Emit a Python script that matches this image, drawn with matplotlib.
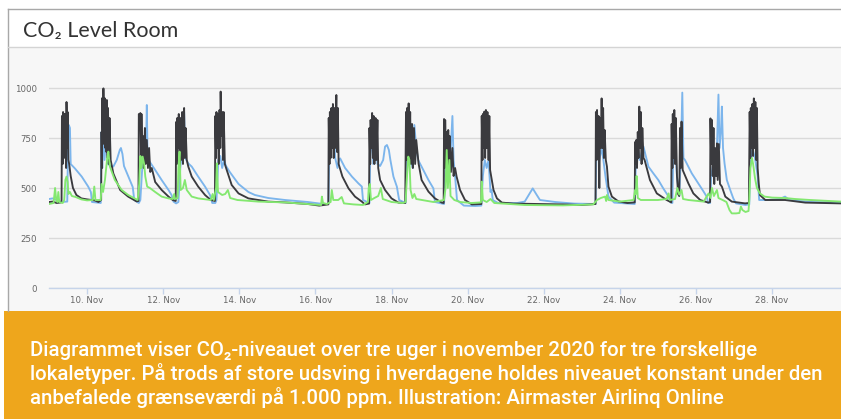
import matplotlib
matplotlib.use('Agg')
import matplotlib.pyplot as plt
import matplotlib.dates as mdates
from matplotlib.patches import Rectangle
from matplotlib.lines import Line2D
import pandas as pd

# CO2 readings (ppm) as (days since 9 Nov 2020 00:00, value)
blue_pts = [
    (0.00, 445), (0.10, 448), (0.20, 440), (0.30, 430), (0.48, 432), (0.50, 720), (0.52, 815),
    (0.55, 800), (0.57, 620), (0.62, 610), (0.68, 598), (0.86, 557), (1.03, 507), (1.10, 480),
    (1.13, 430), (1.36, 425), (1.38, 780), (1.40, 600), (1.43, 850), (1.46, 640), (1.50, 780),
    (1.55, 620), (1.62, 610), (1.69, 607), (1.78, 640), (1.86, 690), (1.89, 700), (1.93, 670),
    (1.97, 610), (2.10, 550), (2.20, 505), (2.24, 440), (2.36, 425), (2.40, 440), (2.45, 600),
    (2.50, 650), (2.55, 700), (2.57, 915), (2.59, 650), (2.65, 630), (2.79, 590), (2.96, 540),
    (3.14, 490), (3.22, 465), (3.27, 432), (3.34, 423), (3.40, 430), (3.45, 600), (3.50, 700),
    (3.55, 880), (3.58, 650), (3.66, 623), (3.75, 607), (3.92, 557), (4.10, 507), (4.23, 465),
    (4.29, 425), (4.37, 425), (4.40, 440), (4.45, 640), (4.50, 660), (4.55, 600), (4.60, 640),
    (4.65, 610), (4.75, 580), (4.98, 520), (5.24, 480), (5.41, 465), (5.76, 450), (6.20, 440),
    (6.80, 430), (7.20, 420), (7.34, 420), (7.36, 600), (7.38, 850), (7.42, 700), (7.46, 880),
    (7.52, 650), (7.58, 600), (7.62, 640), (7.65, 648), (7.78, 600), (7.96, 557), (8.13, 523),
    (8.22, 507), (8.25, 440), (8.42, 425), (8.44, 650), (8.48, 800), (8.52, 620), (8.58, 780),
    (8.63, 620), (8.70, 610), (8.78, 640), (8.83, 707), (8.88, 715), (8.93, 690), (8.97, 640),
    (9.05, 557), (9.14, 507), (9.20, 440), (9.37, 425), (9.40, 620), (9.45, 780), (9.50, 640),
    (9.56, 600), (9.60, 815), (9.65, 700), (9.70, 640), (9.79, 607), (9.97, 540), (10.10, 498),
    (10.14, 430), (10.38, 420), (10.42, 600), (10.47, 650), (10.53, 600), (10.57, 750),
    (10.60, 860), (10.63, 640), (10.67, 560), (10.72, 440), (10.90, 412), (11.20, 410),
    (11.36, 412), (11.40, 560), (11.45, 640), (11.50, 600), (11.55, 640), (11.60, 480),
    (11.63, 490), (11.66, 440), (11.80, 425), (12.30, 425), (12.50, 432), (12.62, 470),
    (12.71, 498), (12.80, 470), (12.90, 440), (13.30, 430), (13.80, 422), (14.36, 420),
    (14.38, 650), (14.42, 700), (14.46, 640), (14.52, 700), (14.56, 650), (14.62, 560),
    (14.70, 457), (14.85, 427), (15.39, 420), (15.42, 620), (15.47, 700), (15.52, 640),
    (15.58, 680), (15.62, 707), (15.75, 607), (15.88, 573), (16.01, 540), (16.14, 498),
    (16.28, 457), (16.33, 428), (16.38, 425), (16.40, 640), (16.45, 700), (16.50, 560),
    (16.56, 460), (16.60, 650), (16.64, 977), (16.67, 650), (16.71, 640), (16.89, 573),
    (17.06, 523), (17.20, 482), (17.28, 457), (17.32, 425), (17.37, 425), (17.40, 560),
    (17.45, 620), (17.50, 560), (17.55, 700), (17.59, 967), (17.62, 700), (17.66, 800),
    (17.68, 907), (17.71, 700), (17.75, 623), (17.81, 540), (17.90, 490), (17.98, 448),
    (18.05, 423), (18.30, 415), (18.40, 418), (18.42, 600), (18.48, 700), (18.55, 650),
    (18.62, 560), (18.66, 440), (18.90, 440), (19.20, 445), (19.34, 457), (19.45, 440),
    (20.00, 430), (20.81, 428),
]

black_pts = [
    (0.00, 430), (0.10, 432), (0.20, 425), (0.32, 428), (0.33, 440), (0.34, 860), (0.36, 620),
    (0.37, 880), (0.39, 700), (0.40, 870), (0.42, 650), (0.43, 870), (0.45, 600), (0.46, 930),
    (0.48, 700), (0.49, 880), (0.51, 640), (0.53, 620), (0.57, 560), (0.63, 500), (0.72, 465),
    (0.85, 448), (1.00, 443), (1.20, 438), (1.30, 430), (1.37, 440), (1.38, 780), (1.39, 600),
    (1.40, 950), (1.42, 720), (1.43, 998), (1.45, 760), (1.46, 950), (1.48, 700), (1.49, 930),
    (1.51, 680), (1.52, 940), (1.54, 650), (1.55, 900), (1.57, 620), (1.59, 850), (1.62, 640),
    (1.69, 573), (1.87, 490), (2.08, 457), (2.30, 433), (2.35, 435), (2.36, 870), (2.38, 860),
    (2.40, 875), (2.42, 650), (2.43, 870), (2.45, 640), (2.47, 760), (2.49, 600), (2.52, 800),
    (2.54, 620), (2.57, 740), (2.60, 600), (2.63, 700), (2.66, 580), (2.70, 600), (2.79, 530),
    (2.96, 490), (3.14, 457), (3.25, 440), (3.33, 435), (3.34, 830), (3.36, 620), (3.37, 850),
    (3.39, 700), (3.41, 870), (3.43, 600), (3.45, 850), (3.47, 640), (3.50, 880), (3.52, 620),
    (3.55, 900), (3.57, 650), (3.59, 800), (3.62, 640), (3.66, 607), (3.75, 557), (3.92, 507),
    (4.10, 465), (4.25, 440), (4.36, 435), (4.37, 860), (4.39, 650), (4.40, 880), (4.42, 700),
    (4.44, 870), (4.46, 620), (4.48, 890), (4.50, 700), (4.51, 982), (4.53, 760), (4.55, 880),
    (4.57, 640), (4.59, 880), (4.62, 620), (4.67, 590), (4.80, 515), (4.98, 473), (5.24, 448),
    (5.76, 432), (6.20, 428), (6.80, 420), (7.10, 412), (7.34, 418), (7.35, 850), (7.37, 620),
    (7.38, 880), (7.40, 650), (7.42, 900), (7.44, 700), (7.46, 920), (7.48, 650), (7.50, 900),
    (7.52, 700), (7.55, 965), (7.57, 680), (7.59, 900), (7.61, 620), (7.71, 557), (7.87, 498),
    (8.04, 457), (8.22, 432), (8.30, 418), (8.41, 422), (8.42, 800), (8.44, 620), (8.45, 840),
    (8.47, 700), (8.49, 875), (8.51, 650), (8.53, 860), (8.55, 620), (8.58, 850), (8.60, 640),
    (8.63, 840), (8.65, 600), (8.70, 540), (8.83, 490), (9.00, 448), (9.18, 427), (9.36, 425),
    (9.38, 880), (9.40, 640), (9.41, 900), (9.43, 700), (9.45, 923), (9.47, 650), (9.49, 880),
    (9.51, 620), (9.54, 820), (9.56, 600), (9.59, 800), (9.62, 620), (9.65, 740), (9.71, 623),
    (9.79, 540), (9.97, 482), (10.14, 448), (10.32, 427), (10.37, 425), (10.38, 845),
    (10.40, 600), (10.41, 840), (10.43, 620), (10.45, 780), (10.47, 580), (10.49, 790),
    (10.51, 600), (10.53, 760), (10.56, 580), (10.60, 700), (10.63, 560), (10.67, 600),
    (10.71, 557), (10.80, 490), (10.93, 440), (11.11, 418), (11.36, 420), (11.37, 860),
    (11.39, 640), (11.40, 870), (11.42, 700), (11.44, 882), (11.46, 650), (11.48, 890),
    (11.50, 700), (11.52, 880), (11.55, 640), (11.57, 860), (11.59, 590), (11.68, 490),
    (11.77, 448), (11.90, 427), (12.20, 422), (12.80, 420), (13.50, 418), (14.00, 415),
    (14.36, 420), (14.37, 880), (14.39, 640), (14.40, 890), (14.42, 700), (14.44, 860),
    (14.46, 500), (14.48, 850), (14.50, 700), (14.52, 948), (14.54, 700), (14.56, 900),
    (14.58, 650), (14.60, 790), (14.63, 640), (14.66, 607), (14.70, 507), (14.79, 457),
    (14.96, 433), (15.20, 425), (15.39, 428), (15.40, 730), (15.42, 620), (15.43, 740),
    (15.45, 600), (15.47, 780), (15.49, 650), (15.51, 907), (15.53, 700), (15.55, 880),
    (15.57, 620), (15.59, 800), (15.62, 650), (15.65, 640), (15.79, 540), (15.97, 473),
    (16.23, 440), (16.35, 428), (16.36, 820), (16.38, 600), (16.39, 870), (16.41, 650),
    (16.43, 890), (16.45, 620), (16.47, 850), (16.50, 560), (16.53, 470), (16.56, 460),
    (16.58, 800), (16.60, 600), (16.62, 832), (16.65, 590), (16.80, 523), (16.93, 473),
    (17.11, 440), (17.32, 427), (17.37, 430), (17.38, 848), (17.40, 620), (17.42, 840),
    (17.44, 560), (17.46, 800), (17.48, 520), (17.50, 700), (17.53, 560), (17.55, 723),
    (17.57, 540), (17.60, 720), (17.63, 520), (17.68, 507), (17.77, 457), (17.94, 432),
    (18.29, 423), (18.39, 425), (18.41, 880), (18.43, 650), (18.44, 900), (18.46, 700),
    (18.48, 920), (18.50, 660), (18.52, 948), (18.54, 700), (18.56, 930), (18.58, 640),
    (18.60, 900), (18.62, 600), (18.65, 520), (18.68, 465), (18.82, 440), (19.34, 440),
    (19.87, 427), (20.81, 423),
]

green_pts = [
    (0.00, 420), (0.12, 425), (0.16, 500), (0.19, 440), (0.22, 430), (0.245, 480), (0.27, 430),
    (0.36, 425), (0.40, 440), (0.43, 540), (0.46, 557), (0.49, 530), (0.51, 470), (0.55, 480),
    (0.60, 460), (0.70, 455), (0.85, 443), (1.00, 438), (1.15, 440), (1.19, 507), (1.22, 440),
    (1.36, 440), (1.38, 520), (1.42, 480), (1.47, 540), (1.53, 650), (1.56, 682), (1.60, 607),
    (1.73, 540), (1.91, 490), (2.08, 465), (2.25, 448), (2.33, 440), (2.37, 520), (2.40, 660),
    (2.43, 600), (2.46, 657), (2.50, 620), (2.53, 557), (2.58, 507), (2.65, 500), (2.79, 480),
    (2.96, 457), (3.14, 448), (3.25, 445), (3.29, 470), (3.31, 445), (3.38, 450), (3.40, 600),
    (3.43, 682), (3.46, 490), (3.52, 500), (3.57, 540), (3.62, 490), (3.75, 457), (3.92, 448),
    (4.25, 440), (4.30, 470), (4.33, 440), (4.39, 500), (4.41, 623), (4.44, 480), (4.55, 465),
    (4.63, 470), (4.70, 490), (4.76, 450), (4.95, 440), (5.50, 432), (6.20, 428), (6.80, 420),
    (7.15, 415), (7.17, 457), (7.20, 425), (7.30, 420), (7.40, 430), (7.43, 490), (7.47, 440),
    (7.60, 440), (7.69, 455), (7.75, 423), (8.00, 418), (8.25, 415), (8.38, 430), (8.40, 500),
    (8.43, 520), (8.46, 440), (8.55, 450), (8.65, 460), (8.72, 500), (8.77, 445), (9.00, 430),
    (9.30, 425), (9.37, 430), (9.40, 540), (9.44, 657), (9.47, 640), (9.50, 490), (9.55, 450),
    (9.60, 470), (9.65, 445), (9.80, 440), (10.10, 430), (10.38, 440), (10.42, 500),
    (10.45, 690), (10.48, 500), (10.52, 640), (10.55, 460), (10.65, 440), (10.80, 430),
    (11.10, 425), (11.35, 428), (11.37, 532), (11.40, 440), (11.50, 430), (11.60, 445),
    (11.70, 425), (12.50, 415), (13.50, 413), (14.30, 418), (14.40, 440), (14.50, 450),
    (14.61, 457), (14.64, 435), (14.66, 465), (14.70, 440), (15.00, 432), (15.36, 440),
    (15.40, 490), (15.42, 470), (15.44, 560), (15.47, 450), (15.55, 440), (16.00, 440),
    (16.23, 445), (16.28, 473), (16.31, 440), (16.45, 445), (16.51, 500), (16.56, 467),
    (16.62, 490), (16.66, 445), (16.80, 440), (17.20, 432), (17.33, 473), (17.38, 450),
    (17.42, 500), (17.47, 460), (17.55, 490), (17.59, 450), (17.70, 440), (17.80, 430),
    (17.88, 390), (17.94, 373), (18.05, 373), (18.14, 375), (18.18, 407), (18.22, 390),
    (18.30, 380), (18.38, 385), (18.40, 440), (18.43, 600), (18.47, 650), (18.50, 620),
    (18.55, 550), (18.60, 500), (18.68, 473), (18.80, 457), (19.00, 452), (19.34, 450),
    (19.60, 445), (20.00, 440), (20.50, 435), (20.81, 432),
]

y_ticks = [0, 250, 500, 750, 1000]
start = pd.Timestamp('2020-11-09')
span_days = 20.81

title = 'CO\u2082 Level Room'
caption = [
    'Diagrammet viser CO\u2082-niveauet over tre uger i november 2020 for tre forskellige',
    'lokaletyper. På trods af store udsving i hverdagene holdes niveauet konstant under den',
    'anbefalede grænseværdi på 1.000 ppm. Illustration: Airmaster Airlinq Online',
]

W, H = 841, 419


def fx(x):
    return x / W


def fy(y):
    return 1 - y / H


def to_times(pts):
    days = [p[0] for p in pts]
    vals = [p[1] for p in pts]
    return start + pd.to_timedelta(days, unit='D'), vals


fig = plt.figure(figsize=(W / 100, H / 100), dpi=100)
fig.patch.set_facecolor('white')

# card background, caption band and borders
fig.add_artist(Rectangle((fx(8), fy(311)), 1 - fx(8), fy(48) - fy(311),
                         transform=fig.transFigure, facecolor='#f7f7f7',
                         edgecolor='none', zorder=-2))
fig.add_artist(Rectangle((fx(4), 0), 1 - fx(4), fy(311), transform=fig.transFigure,
                         facecolor='#eea61c', edgecolor='none', zorder=-2))
fig.add_artist(Line2D([fx(7.5), 1], [fy(9.5), fy(9.5)], transform=fig.transFigure,
                      color='#a8a8a8', lw=1, zorder=-1))
fig.add_artist(Line2D([fx(7.5), fx(7.5)], [fy(9.5), fy(311)], transform=fig.transFigure,
                      color='#a8a8a8', lw=1, zorder=-1))
fig.add_artist(Line2D([fx(8), 1], [fy(47.5), fy(47.5)], transform=fig.transFigure,
                      color='#d4d4d4', lw=1, zorder=-1))

fig.text(fx(23), fy(37), title, fontsize=15.5, color='#333333',
         family=['Lato', 'DejaVu Sans'], va='baseline', ha='left')

# plot area
ax_top, ax_bottom = 60, 288
ax = fig.add_axes([fx(49), fy(ax_bottom), 1 - fx(49), fy(ax_top) - fy(ax_bottom)])
ax.set_facecolor('none')

for pts, color in [(blue_pts, '#7cb5ec'), (black_pts, '#3a3a3e'), (green_pts, '#84e870')]:
    t, v = to_times(pts)
    ax.plot(t, v, color=color, lw=1.35, solid_joinstyle='round')

ax.set_xlim(start, start + pd.Timedelta(days=span_days))
ax.set_ylim(0, (ax_bottom - ax_top) * 5)
ax.set_yticks(y_ticks)
ax.yaxis.grid(True, color='#dadada', lw=1)
ax.set_axisbelow(True)
for side in ['top', 'right', 'left']:
    ax.spines[side].set_visible(False)
ax.spines['bottom'].set_color('#c6d4ea')
ax.spines['bottom'].set_linewidth(1)

ax.xaxis.set_major_locator(mdates.DayLocator(bymonthday=list(range(10, 30, 2))))
ax.xaxis.set_major_formatter(mdates.DateFormatter('%d. %b'))
ax.tick_params(axis='x', length=4, width=1, color='#c6d4ea', pad=2,
               labelsize=6.2, labelcolor='#666666')
ax.tick_params(axis='y', length=0, pad=8.5, labelsize=6.2, labelcolor='#666666')

# caption, sized so the longest line spans the band like in the source
cap_texts = []
for i, line in enumerate(caption):
    cap_texts.append(fig.text(fx(30), fy(350 + i * 23.5), line, fontsize=13.2, color='white',
                              family=['Roboto', 'DejaVu Sans'], weight='medium',
                              va='center', ha='left'))
renderer = fig.canvas.get_renderer()
widest = max(t.get_window_extent(renderer).width for t in cap_texts)
scale = 798 / widest
for t in cap_texts:
    t.set_fontsize(13.2 * scale)

fig.savefig('out.png', dpi=100)
